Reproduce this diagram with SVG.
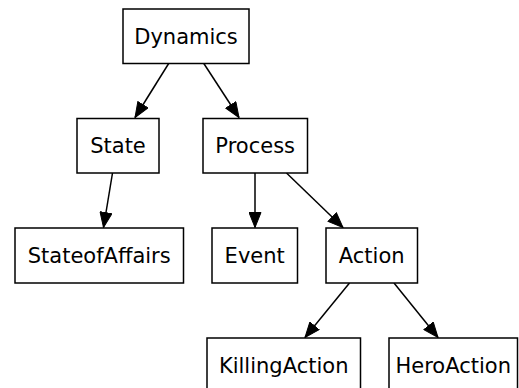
<svg xmlns="http://www.w3.org/2000/svg" width="519" height="388" viewBox="0 0 519 388">
<style>
.node rect{fill:#fff;stroke:#000;stroke-width:1.5}
.node text{font-family:"DejaVu Sans",sans-serif;font-size:21px;text-anchor:middle;fill:#000}
.edges line{stroke:#000;stroke-width:1.5;marker-end:url(#arr)}
</style>
<defs>
<marker id="arr" markerUnits="userSpaceOnUse" markerWidth="17" markerHeight="13" refX="15.5" refY="6.5" orient="auto" viewBox="0 0 17 13">
<path d="M0.5,0.5 L15.5,6.5 L0.5,12.5 z" fill="#000" stroke="#000" stroke-width="1"/>
</marker>
</defs>
<rect width="519" height="388" fill="#fff"/>
<g class="edges">
<line x1="169" y1="63" x2="135" y2="117.5"/>
<line x1="203.5" y1="63" x2="239" y2="117.5"/>
<line x1="112.5" y1="173" x2="103.5" y2="227.5"/>
<line x1="255" y1="173" x2="255" y2="227.5"/>
<line x1="286.5" y1="173" x2="343" y2="227.5"/>
<line x1="349.5" y1="283" x2="305" y2="337.5"/>
<line x1="394" y1="283" x2="438" y2="337.5"/>
</g>
<g id="Dynamics" class="node"><rect x="123" y="9" width="126" height="54.5"/><text x="186" y="43.5">Dynamics</text></g>
<g id="State" class="node"><rect x="77" y="118.5" width="82" height="54.5"/><text x="118" y="153">State</text></g>
<g id="Process" class="node"><rect x="203" y="118.5" width="104.5" height="54.5"/><text x="255.2" y="153">Process</text></g>
<g id="StateofAffairs" class="node"><rect x="15" y="228" width="168.5" height="55"/><text x="99.2" y="262.5">StateofAffairs</text></g>
<g id="Event" class="node"><rect x="212" y="228" width="85.5" height="55"/><text x="254.7" y="262.5">Event</text></g>
<g id="Action" class="node"><rect x="326" y="228" width="91.5" height="55"/><text x="371.7" y="262.5">Action</text></g>
<g id="KillingAction" class="node"><rect x="207" y="338" width="153.5" height="55"/><text x="283.7" y="372.5">KillingAction</text></g>
<g id="HeroAction" class="node"><rect x="389" y="338" width="128.5" height="55"/><text x="453.2" y="372.5">HeroAction</text></g>
</svg>
